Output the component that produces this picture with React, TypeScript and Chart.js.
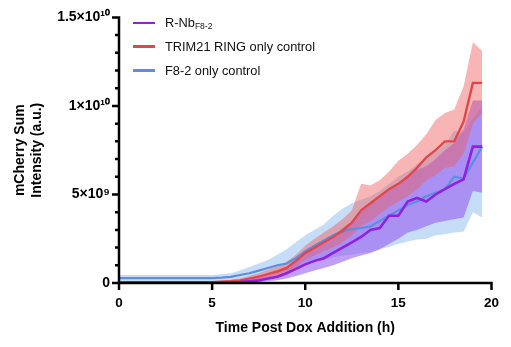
import React, { useEffect, useRef } from "react";
import { Chart, registerables } from "chart.js";

Chart.register(...registerables);

// Time after dox addition (h)
const timeHours = [
  0, 0.5, 1, 1.5, 2, 2.5, 3, 3.5, 4, 4.5, 5, 5.5, 6, 6.5, 7, 7.5, 8, 8.5, 9, 9.5,
  10, 10.5, 11, 11.5, 12, 12.5, 13, 13.5, 14, 14.5, 15, 15.5, 16, 16.5, 17, 17.5, 18, 18.5, 19, 19.5,
];

// Values in units of 1e9 (a.u.)
const rnbMean = [
  0.02, 0.02, 0.02, 0.02, 0.02, 0.02, 0.02, 0.02, 0.02, 0.02, 0.02, 0.02, 0.02, 0.05, 0.1, 0.15, 0.25, 0.35, 0.55, 0.8,
  1.05, 1.25, 1.4, 1.7, 2.0, 2.3, 2.6, 3.0, 3.1, 3.8, 3.8, 4.6, 4.8, 4.6, 5.0, 5.3, 5.6, 5.85, 7.7, 7.7,
];
const rnbLower = [
  0, 0, 0, 0, 0, 0, 0, 0, 0, 0, 0, 0, 0, 0.02, 0.04, 0.06, 0.1, 0.15, 0.25, 0.4,
  0.55, 0.7, 0.85, 1.0, 1.2, 1.4, 1.55, 1.7, 1.9, 2.2, 2.5, 2.85, 3.0, 3.2, 3.4, 3.5, 3.6, 3.7, 5.2, 5.1,
];
const rnbUpper = [
  0.08, 0.08, 0.08, 0.08, 0.08, 0.08, 0.08, 0.08, 0.08, 0.08, 0.08, 0.08, 0.08, 0.12, 0.18, 0.28, 0.42, 0.6, 0.9, 1.3,
  1.7, 2.0, 2.3, 2.7, 3.1, 3.5, 4.0, 4.5, 4.8, 5.3, 5.5, 6.0, 6.4, 6.6, 7.0, 7.5, 7.9, 8.7, 10.3, 10.3,
];

const trimMean = [
  0.05, 0.05, 0.05, 0.05, 0.05, 0.05, 0.05, 0.05, 0.05, 0.05, 0.05, 0.07, 0.1, 0.15, 0.25, 0.35, 0.5, 0.65, 0.85, 1.25,
  1.7, 2.0, 2.3, 2.6, 2.95, 3.4, 4.1, 4.5, 4.9, 5.3, 5.6, 6.0, 6.5, 7.1, 7.5, 8.0, 8.0, 9.1, 11.3, 11.3,
];
const trimLower = [
  0, 0, 0, 0, 0, 0, 0, 0, 0, 0, 0, 0.01, 0.03, 0.06, 0.1, 0.2, 0.3, 0.4, 0.55, 0.9,
  1.3, 1.55, 1.8, 2.0, 2.3, 2.7, 3.2, 3.5, 3.9, 4.3, 4.6, 4.9, 5.3, 5.8, 6.1, 6.5, 6.6, 7.3, 9.0, 9.6,
];
const trimUpper = [
  0.1, 0.1, 0.1, 0.1, 0.1, 0.1, 0.1, 0.1, 0.1, 0.1, 0.1, 0.13, 0.18, 0.26, 0.4, 0.55, 0.75, 0.95, 1.2, 1.6,
  2.1, 2.5, 2.85, 3.2, 3.6, 4.1, 5.6, 5.5, 5.8, 6.3, 6.9, 7.3, 7.8, 8.4, 9.2, 9.6, 9.8, 11.1, 13.6, 13.1,
];

const f82Mean = [
  0.28, 0.28, 0.28, 0.28, 0.28, 0.28, 0.28, 0.28, 0.28, 0.28, 0.28, 0.3, 0.35, 0.45, 0.55, 0.7, 0.85, 1.0, 1.1, 1.4,
  1.8, 2.1, 2.4, 2.7, 2.9, 3.05, 3.1, 3.2, 3.5, 3.8, 4.1, 4.4, 4.6, 4.9, 5.1, 5.3, 6.0, 5.9, 6.8, 7.7,
];
const f82Lower = [
  0.12, 0.12, 0.12, 0.12, 0.12, 0.12, 0.12, 0.12, 0.12, 0.12, 0.12, 0.12, 0.12, 0.2, 0.3, 0.4, 0.5, 0.6, 0.7, 0.85,
  1.0, 1.2, 1.3, 1.45, 1.55, 1.6, 1.7, 1.75, 1.9, 2.05, 2.2, 2.35, 2.45, 2.5, 2.7, 2.75, 2.85, 2.9, 4.0, 3.7,
];
const f82Upper = [
  0.45, 0.45, 0.45, 0.45, 0.45, 0.45, 0.45, 0.45, 0.45, 0.45, 0.45, 0.5, 0.55, 0.7, 0.9, 1.1, 1.3, 1.6, 1.9, 2.3,
  2.7, 3.0, 3.3, 3.8, 4.2, 4.5, 4.7, 4.9, 5.2, 5.6, 6.0, 6.3, 6.7, 7.1, 7.4, 7.8, 8.6, 8.5, 9.3, 10.0,
];

const xTickValues = [0, 5, 10, 15, 20];
const yMajorTickLabels: Record<number, string> = {
  0: "0",
  5: "5×10⁹",
  10: "1×10¹⁰",
  15: "1.5×10¹⁰",
};
const xTitle = "Time Post Dox Addition (h)";
const yTitle = ["mCherry Sum", "Intensity (a.u.)"];

const COLORS = {
  rnbLine: "#9120e0",
  rnbBand: "rgba(150, 90, 240, 0.58)",
  trimLine: "#e2464a",
  trimBand: "rgba(240, 90, 90, 0.45)",
  f82Line: "#5b8fe3",
  f82Band: "rgba(110, 170, 235, 0.4)",
};

const FONT = "'Liberation Sans', Arial, sans-serif";

const pts = (ys: number[]) => timeHours.map((t, i) => ({ x: t, y: ys[i] }));

const axisPlugin = {
  id: "prismAxes",
  afterDraw(chart: any) {
    const { ctx, chartArea, scales } = chart;
    const { left, right, top, bottom } = chartArea;
    const x = scales.x;
    const y = scales.y;
    ctx.save();
    ctx.strokeStyle = "#000";
    ctx.lineWidth = 2.5;
    ctx.beginPath();
    ctx.moveTo(left, top - 1.25);
    ctx.lineTo(left, bottom + 1.25);
    ctx.moveTo(left - 1.25, bottom);
    ctx.lineTo(right + 1.25, bottom);
    for (let v = 0; v <= 15; v++) {
      const py = y.getPixelForValue(v);
      const len = v % 5 === 0 ? 7 : 4;
      ctx.moveTo(left - len, py);
      ctx.lineTo(left, py);
    }
    for (const t of xTickValues) {
      const px = x.getPixelForValue(t);
      ctx.moveTo(px, bottom);
      ctx.lineTo(px, bottom + 7);
    }
    ctx.stroke();
    ctx.restore();
  },
};

function ChartView() {
  const canvasRef = useRef<HTMLCanvasElement | null>(null);

  useEffect(() => {
    if (!canvasRef.current) return;
    const band = (data: number[], color: string, order: number, fill: any) => ({
      data: pts(data),
      borderWidth: 0,
      borderColor: "transparent",
      backgroundColor: color,
      pointRadius: 0,
      fill,
      order,
      tension: 0,
    });
    const line = (data: number[], color: string, order: number, width: number) => ({
      data: pts(data),
      borderColor: color,
      backgroundColor: color,
      borderWidth: width,
      pointRadius: 0,
      fill: false,
      order,
      tension: 0,
    });

    const chart = new Chart(canvasRef.current, {
      type: "line",
      data: {
        datasets: [
          band(f82Lower, "transparent", 9, false),
          band(f82Upper, COLORS.f82Band, 8, "-1"),
          band(rnbLower, "transparent", 7, false),
          band(rnbUpper, COLORS.rnbBand, 6, "-1"),
          band(trimLower, "transparent", 5, false),
          band(trimUpper, COLORS.trimBand, 4, "-1"),
          line(f82Mean, COLORS.f82Line, 3, 2.2),
          line(trimMean, COLORS.trimLine, 2, 2.4),
          line(rnbMean, COLORS.rnbLine, 1, 2.6),
        ] as any,
      },
      options: {
        animation: false,
        responsive: true,
        maintainAspectRatio: false,
        layout: { padding: { left: 0, top: 14, right: 13, bottom: 0 } },
        plugins: {
          legend: { display: false },
          tooltip: { enabled: false },
        },
        elements: { line: { borderJoinStyle: "miter" } },
        scales: {
          x: {
            type: "linear",
            min: 0,
            max: 20,
            afterFit: (s: any) => {
              s.height = 64;
            },
            grid: { display: false, drawTicks: false },
            border: { display: false },
            ticks: {
              stepSize: 5,
              padding: 12,
              color: "#000",
              font: { family: FONT, size: 13.5, weight: "bold" },
              maxRotation: 0,
            },
            title: {
              display: true,
              text: xTitle,
              color: "#000",
              font: { family: FONT, size: 14, weight: "bold" },
              padding: { top: 0, bottom: 10 },
            },
          },
          y: {
            type: "linear",
            min: 0,
            max: 15,
            afterFit: (s: any) => {
              s.width = 119;
            },
            grid: { display: false, drawTicks: false },
            border: { display: false },
            ticks: {
              stepSize: 1,
              autoSkip: false,
              padding: 9,
              color: "#000",
              font: { family: FONT, size: 14, weight: "bold" },
              callback: (v: any) => (yMajorTickLabels[v as number] ?? ""),
            },
            title: {
              display: true,
              text: yTitle,
              color: "#000",
              font: { family: FONT, size: 14, weight: "bold", lineHeight: 1.2 },
              padding: { top: 12, bottom: 0 },
            },
          },
        },
      } as any,
      plugins: [axisPlugin],
    });
    return () => chart.destroy();
  }, []);

  return <canvas ref={canvasRef} />;
}

const legendItems = [
  { color: COLORS.rnbLine, main: "R-Nb", sub: "F8-2" },
  { color: COLORS.trimLine, main: "TRIM21 RING only control", sub: "" },
  { color: COLORS.f82Line, main: "F8-2 only control", sub: "" },
];

export default function App() {
  return (
    <div
      style={{
        position: "fixed",
        left: 0,
        top: 0,
        width: 511,
        height: 347,
        background: "#fff",
        fontFamily: FONT,
      }}
    >
      <ChartView />
      {legendItems.map((it, i) => (
        <div
          key={i}
          style={{
            position: "absolute",
            left: 133,
            top: 23 + i * 23.7 - 8,
            height: 16,
            display: "flex",
            alignItems: "center",
            fontSize: 12.8,
            color: "#111",
            whiteSpace: "nowrap",
          }}
        >
          <div style={{ width: 22, height: 2.5, background: it.color, marginRight: 10 }} />
          <span>
            {it.main}
            {it.sub ? <sub style={{ fontSize: 8.5, verticalAlign: "-2px" }}>{it.sub}</sub> : null}
          </span>
        </div>
      ))}
    </div>
  );
}
